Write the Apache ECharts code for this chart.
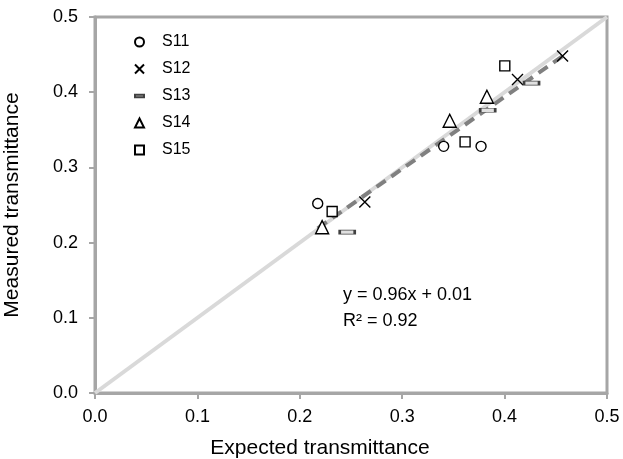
<!DOCTYPE html>
<html><head><meta charset="utf-8">
<script src="https://cdn.jsdelivr.net/npm/echarts/dist/echarts.min.js"></script>
<style>html,body{margin:0;padding:0;background:#fff}#c{width:623px;height:459px}</style>
</head><body><div id="c"></div>
<script>
// ---- data ----
const seriesNames = ['S11', 'S12', 'S13', 'S14', 'S15'];
const s11 = [[0.2175, 0.252], [0.3405, 0.328], [0.377, 0.328]];
const s12 = [[0.2635, 0.254], [0.4126, 0.417], [0.4566, 0.448]];
const s13 = [[0.2463, 0.214], [0.3835, 0.376], [0.4263, 0.412]];
const s14 = [[0.2218, 0.2205], [0.3464, 0.362], [0.3827, 0.394]];
const s15 = [[0.2316, 0.2413], [0.3614, 0.334], [0.4002, 0.435]];
const identityX = [0, 0.5];
const identityY = [0, 0.5];
const trendX = [0.2175, 0.4566];
const trendY = [0.219, 0.448];
const xTicks = [0, 0.1, 0.2, 0.3, 0.4, 0.5];
const yTicks = [0, 0.1, 0.2, 0.3, 0.4, 0.5];
const equationText = 'y = 0.96x + 0.01';
const r2Text = 'R\u00B2 = 0.92';

const FONT = '"Liberation Sans", Arial, sans-serif';
const X_PATH = 'path://M0,0L10,10M10,0L0,10';
const DASH_PATH = 'path://M0,0H14V4H0Z';
const symbols = ['circle', X_PATH, DASH_PATH, 'triangle', 'rect'];
const sizes = [10, 11, [15, 4], 13, 10];
const datasets = [s11, s12, s13, s14, s15];

const chart = echarts.init(document.getElementById('c'), null, {renderer: 'canvas'});

const scatterSeries = datasets.map((d, i) => ({
  name: seriesNames[i],
  type: 'scatter',
  data: d,
  symbol: symbols[i],
  symbolSize: sizes[i],
  z: 5,
  itemStyle: {
    color: i === 2 ? '#e0e0e0' : '#ffffff',
    borderColor: i === 2 ? '#404040' : '#000000',
    borderWidth: 1.4,
    opacity: 1
  },
  emphasis: {disabled: true}
}));

const option = {
  animation: false,
  backgroundColor: '#ffffff',
  textStyle: {fontFamily: FONT},
  grid: {left: 95, right: 16, top: 17, bottom: 66, show: true, borderColor: '#a6a6a6', borderWidth: 3,
         containLabel: false, outerBoundsMode: 'none'},
  xAxis: {
    type: 'value', min: xTicks[0], max: xTicks[xTicks.length - 1], interval: 0.1,
    name: 'Expected transmittance', nameLocation: 'middle', nameGap: 45,
    nameTextStyle: {fontSize: 21, color: '#000', fontFamily: FONT, padding: [0, 62, 0, 0]},
    axisLine: {show: true, lineStyle: {color: '#a6a6a6', width: 3}},
    axisTick: {show: true, inside: false, length: 6, lineStyle: {color: '#a6a6a6', width: 2}},
    axisLabel: {fontSize: 18, color: '#000', margin: 15, fontFamily: FONT, formatter: v => v.toFixed(1)},
    splitLine: {show: false}
  },
  yAxis: {
    type: 'value', min: yTicks[0], max: yTicks[yTicks.length - 1], interval: 0.1,
    name: 'Measured transmittance', nameLocation: 'middle', nameGap: 72,
    nameTextStyle: {fontSize: 21, color: '#000', fontFamily: FONT},
    axisLine: {show: true, lineStyle: {color: '#a6a6a6', width: 3}},
    axisTick: {show: true, inside: false, length: 6, lineStyle: {color: '#a6a6a6', width: 2}},
    axisLabel: {fontSize: 18, color: '#000', margin: 17, fontFamily: FONT, formatter: v => v.toFixed(1)},
    splitLine: {show: false}
  },
  legend: {
    orient: 'vertical', left: 129, top: 29,
    itemWidth: 9, itemHeight: 9, itemGap: 11,
    textStyle: {fontSize: 16, color: '#000', fontFamily: FONT, padding: [0, 0, 0, 13]},
    data: seriesNames.map((n, i) => ({name: n, icon: symbols[i]})),
    selectedMode: false
  },
  series: [
    {
      type: 'line', data: identityX.map((x, i) => [x, identityY[i]]),
      symbol: 'none', silent: true, z: 2,
      lineStyle: {color: '#d9d9d9', width: 4}
    },
    {
      type: 'line', data: trendX.map((x, i) => [x, trendY[i]]),
      symbol: 'none', silent: true, z: 3,
      lineStyle: {color: '#808080', width: 4, type: [11, 7]}
    },
    ...scatterSeries
  ],
  graphic: [{
    type: 'text', left: 343, top: 282, z: 10,
    style: {text: equationText + '\n' + r2Text, fontSize: 18, lineHeight: 26, fill: '#000', fontFamily: FONT}
  }]
};
chart.setOption(option);
</script>
</body></html>
